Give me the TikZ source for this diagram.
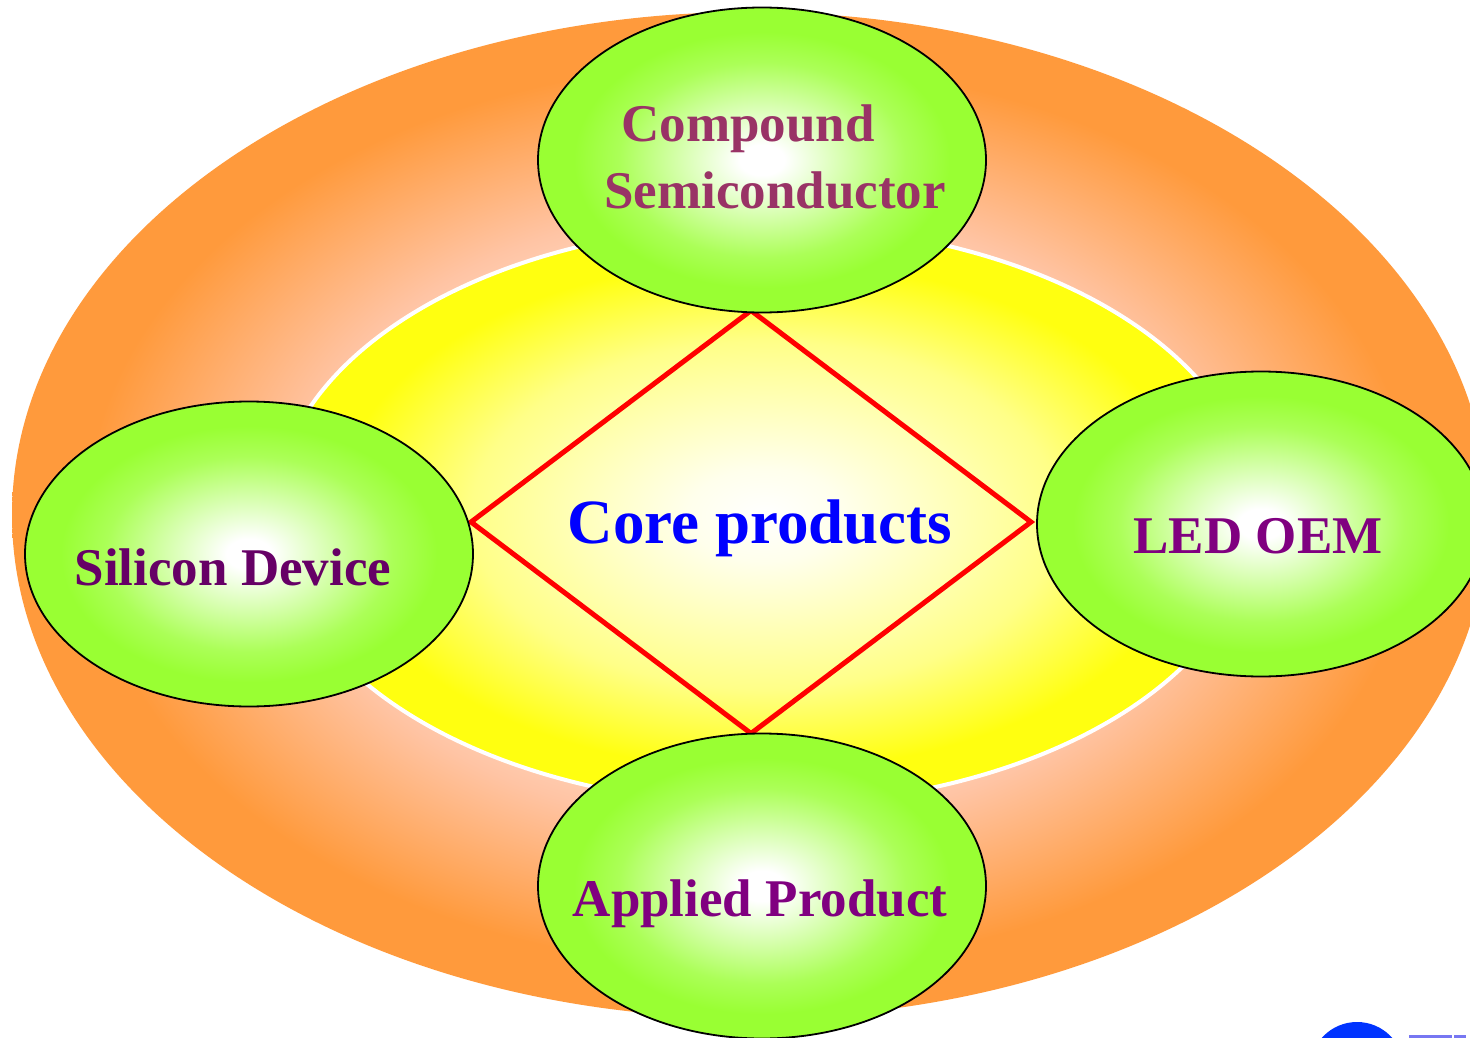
\documentclass[tikz,border=0pt]{standalone}
\usepackage{fontspec}
\setmainfont{Liberation Serif}
\usetikzlibrary{shapes.geometric}
\definecolor{orng}{HTML}{FF9A3C}
\definecolor{peach}{HTML}{FFC4A4}
\definecolor{ylw}{HTML}{FFFF10}
\definecolor{grn}{HTML}{99FF33}
\definecolor{txtA}{HTML}{993366}
\definecolor{txtB}{HTML}{660066}
\definecolor{txtC}{HTML}{800080}
\definecolor{coreblue}{HTML}{0000FF}
\definecolor{logoblue}{HTML}{0033FF}
\definecolor{logolite}{HTML}{7777F2}
% ellipse edge lies at about 25bp of the shading
\pgfdeclareradialshading{orangeshade}{\pgfpointorigin}{color(0bp)=(white); color(8bp)=(white!80!peach); color(15.5bp)=(peach); color(22.5bp)=(orng); color(50bp)=(orng)}
\pgfdeclareradialshading{yellowshade}{\pgfpointorigin}{color(0bp)=(white); color(4bp)=(ylw!8!white); color(15bp)=(ylw!50!white); color(22bp)=(ylw); color(50bp)=(ylw)}
\pgfdeclareradialshading{greenshade}{\pgfpointorigin}{color(0bp)=(white); color(2.5bp)=(white); color(10bp)=(grn!45!white); color(16bp)=(grn!82!white); color(21bp)=(grn); color(50bp)=(grn)}
\begin{document}
\begin{tikzpicture}[x=1pt,y=-1pt,
  lbl/.style={font=\fontsize{53}{60}\selectfont\bfseries, inner sep=0pt, anchor=base},
  bubble/.style={ellipse, draw=black, line width=1.8pt, shade, shading=greenshade,
    minimum width=448pt, minimum height=305pt, inner sep=0pt}]
\useasboundingbox (0,0) rectangle (1470,1038);
\clip (0,0) rectangle (1470,1038);
\fill[white] (0,0) rectangle (1470,1038);
% outer ring
\shade[shading=orangeshade] (750,515) ellipse [x radius=738, y radius=503];
% inner field
\shadedraw[shading=yellowshade, draw=white, line width=4pt] (765,515) ellipse [x radius=490, y radius=290];
% core diamond
\node[diamond, draw=red, line width=5pt, minimum width=562pt, minimum height=425pt, inner sep=0pt] (core) at (751,522) {};
\node[font=\fontsize{63}{70}\selectfont\bfseries, text=coreblue, inner sep=0pt, anchor=base] (coretext) at (760,543) {Core products};
% bubbles
\node[bubble] (compound) at (762,160) {};
\node[bubble] (silicon) at (249,554) {};
\node[bubble] (led) at (1261,524) {};
\node[bubble] (applied) at (762,886) {};
\node[lbl, text=txtA] (compA) at (748,142) {Compound};
\node[lbl, text=txtA] (compB) at (775,208) {Semiconductor};
\node[lbl, text=txtB] (silicontext) at (233,585) {Silicon Device};
\node[lbl, text=txtC] (ledtext) at (1258,553) {LED OEM};
\node[lbl, text=txtC] (appliedtext) at (760,916) {Applied Product};
% logo fragment
\fill[logoblue] (1357,1069) circle [radius=47];
\fill[logolite] (1409,1035) rectangle (1452,1038);
\fill[logolite] (1454,1035) rectangle (1466,1038);
\end{tikzpicture}
\end{document}
